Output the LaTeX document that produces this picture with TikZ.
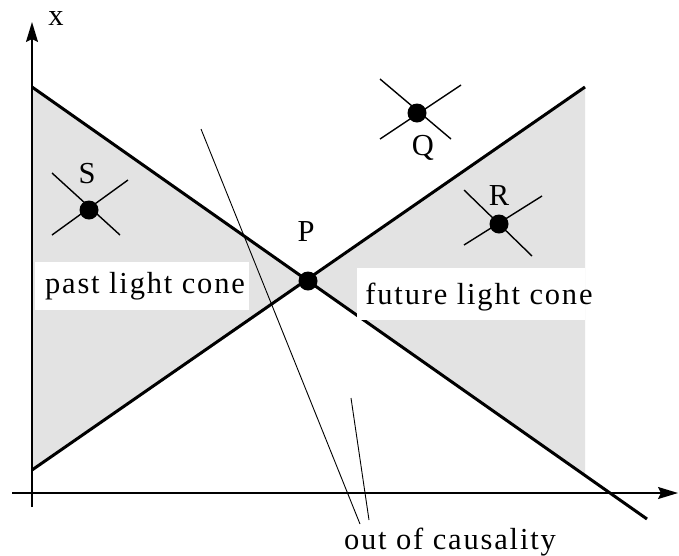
\documentclass[tikz,border=0pt]{standalone}
\usepackage{fontspec}
\setmainfont{Liberation Serif}
\usetikzlibrary{arrows.meta}
\begin{document}
\begin{tikzpicture}[x=1pt,y=-1pt,
  cone/.style={line width=3pt},
  thinline/.style={line width=0.9pt},
  crossline/.style={line width=1.4pt},
  axis/.style={line width=1.6pt,-{Stealth[length=20pt,width=12pt,inset=3pt]}},
  dot/.style={circle,fill=black,inner sep=0pt,minimum size=19pt},
  shade/.style={fill=gray!22},
  lbl/.style={inner sep=0pt,font=\fontsize{30.5}{34}\selectfont\addfontfeatures{LetterSpace=6}}]
\useasboundingbox (0,0) rectangle (679,555);
% cone end points
\coordinate (L1a) at (32,87);
\coordinate (L1b) at (647,519);
\coordinate (L2a) at (32,470);
\coordinate (L2b) at (585,87);
\coordinate (R3) at (585,476);
\coordinate (P0) at (308,281);
% shading
\fill[shade] (L1a) -- (P0) -- (L2a) -- cycle;
\fill[shade] (P0) -- (L2b) -- (R3) -- cycle;
% axes
\coordinate (xa0) at (12,493);
\coordinate (xa1) at (678,493);
\coordinate (ya0) at (32,507);
\coordinate (ya1) at (32,22);
\draw[axis] (xa0) -- (xa1);
\draw[axis] (ya0) -- (ya1);
\node[lbl] (xl) at (56,18) {x};
% cone lines
\draw[cone] (L1a) -- (L1b);
\draw[cone] (L2a) -- (L2b);
% white label boxes
\fill[white] (35,262) rectangle (249,310);
\fill[white] (357,268) rectangle (585,320);
\node[lbl] (past) at (145,286) {past light cone};
\node[lbl] (future) at (479,297) {future light cone};
% out of causality lines
\coordinate (c1a) at (201,129);
\coordinate (c1b) at (360,524);
\coordinate (c2a) at (351,398);
\coordinate (c2b) at (369,520);
\draw[thinline] (c1a) -- (c1b);
\draw[thinline] (c2a) -- (c2b);
\node[lbl] (ooc) at (450,542) {out of causality};
% events
\node[dot] (P) at (P0) {};
\node[lbl] (Pl) at (306,232) {P};
\node[dot] (S) at (89,210) {};
\draw[crossline] (52,173) -- (120,235);
\draw[crossline] (52,235) -- (128,180);
\node[lbl] (Sl) at (87,174) {S};
\node[dot] (Q) at (417,113) {};
\draw[crossline] (380,79) -- (451,139);
\draw[crossline] (380,139) -- (461,85);
\node[lbl] (Ql) at (423,148) {Q};
\node[dot] (R) at (499,224) {};
\draw[crossline] (464,190) -- (532,256);
\draw[crossline] (464,245) -- (542,196);
\node[lbl] (Rl) at (499,196) {R};
\end{tikzpicture}
\end{document}
